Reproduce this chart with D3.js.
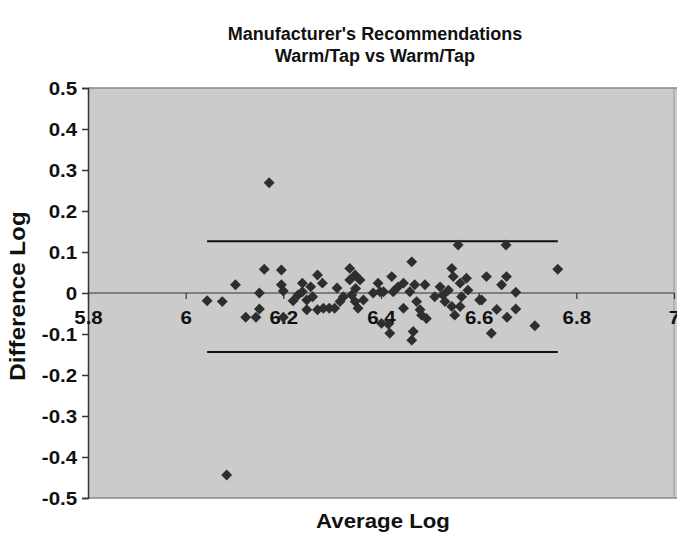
<!DOCTYPE html>
<html>
<head>
<meta charset="utf-8">
<script src="https://cdn.jsdelivr.net/npm/d3@7"></script>
<style>
  body { margin: 0; background: #fff; }
  text { font-family: "Liberation Sans", Arial, sans-serif; font-weight: bold; fill: #111; }
</style>
</head>
<body>
<svg id="chart" width="677" height="537"></svg>
<script>
// values
const avgLog = [
  6.044, 6.075, 6.084, 6.102, 6.123, 6.144, 6.151, 6.151, 6.161, 6.171,
  6.196, 6.196, 6.200, 6.220, 6.230, 6.239, 6.239, 6.248, 6.248, 6.256,
  6.260, 6.270, 6.270, 6.280, 6.282, 6.294, 6.305, 6.316, 6.323, 6.336,
  6.347, 6.336, 6.357, 6.348, 6.340, 6.347, 6.353, 6.364, 6.394, 6.398,
  6.401, 6.405, 6.422, 6.425, 6.415, 6.418, 6.435, 6.446, 6.446, 6.463,
  6.459, 6.469, 6.473, 6.480, 6.483, 6.493, 6.466, 6.463, 6.490, 6.510,
  6.521, 6.527, 6.531, 6.545, 6.548, 6.538, 6.545, 6.551, 6.562, 6.558,
  6.575, 6.578, 6.565, 6.562, 6.602, 6.656, 6.616, 6.657, 6.647, 6.676,
  6.606, 6.637, 6.676, 6.658, 6.626, 6.715, 6.762, 6.200, 6.310, 6.384
]
const diffLog = [
  -0.019, -0.021, -0.444, 0.020, -0.059, -0.059, 0.000, -0.039, 0.058, 0.269,
  0.056, 0.020, -0.059, -0.019, -0.005, 0.024, 0.003, -0.017, -0.041, 0.015,
  -0.009, 0.044, -0.041, 0.024, -0.037, -0.037, -0.037, -0.021, -0.009, 0.060,
  0.044, 0.032, 0.032, 0.011, -0.005, -0.021, -0.037, -0.017, 0.024, 0.003,
  -0.074, 0.003, 0.040, 0.003, -0.076, -0.098, 0.015, 0.024, -0.037, 0.076,
  0.003, 0.020, -0.021, -0.041, -0.054, -0.062, -0.094, -0.115, 0.020, -0.009,
  0.015, -0.005, -0.021, 0.060, 0.040, 0.007, -0.033, -0.054, 0.024, 0.117,
  0.036, 0.007, -0.009, -0.033, -0.017, 0.117, 0.040, 0.040, 0.020, 0.002,
  -0.017, -0.040, -0.039, -0.059, -0.098, -0.080, 0.058, 0.005, 0.012, 0.000
]
const upperLimit = 0.126
const lowerLimit = -0.144
const xTicks = [5.8, 6, 6.2, 6.4, 6.6, 6.8, 7]
const yTicks = [0.5, 0.4, 0.3, 0.2, 0.1, 0, -0.1, -0.2, -0.3, -0.4, -0.5]
const titleLines = ["Manufacturer's Recommendations", "Warm/Tap vs Warm/Tap"]

const svg = d3.select("#chart")
const plotLeft = 88, plotRight = 674, plotTop = 88, plotBottom = 498

const x = d3.scaleLinear().domain([5.8, 7]).range([plotLeft, plotRight])
const y = d3.scaleLinear().domain([-0.5, 0.5]).range([plotBottom, plotTop])

// excel style labels, plain hyphen for minus
const fmt = d => d === 0 ? "0" : (d % 1 === 0 ? String(d) : d.toFixed(1))

// plot background
svg.append("rect")
  .attr("x", plotLeft).attr("y", plotTop)
  .attr("width", 677 - plotLeft).attr("height", plotBottom - plotTop)
  .attr("fill", "#cbcbcb")
svg.append("line")
  .attr("x1", plotLeft).attr("x2", 677).attr("y1", plotTop).attr("y2", plotTop)
  .attr("stroke", "#888").attr("stroke-width", 1.5)
svg.append("line")
  .attr("x1", plotLeft).attr("x2", 677).attr("y1", plotBottom).attr("y2", plotBottom)
  .attr("stroke", "#888").attr("stroke-width", 1.5)
svg.append("line")
  .attr("x1", plotRight).attr("x2", plotRight).attr("y1", plotTop).attr("y2", plotBottom)
  .attr("stroke", "#999").attr("stroke-width", 1)

// y axis
const yAxis = svg.append("g")
  .attr("transform", `translate(${plotLeft},0)`)
  .call(d3.axisLeft(y).tickValues(yTicks).tickSize(6).tickPadding(4).tickFormat(fmt))
yAxis.selectAll("text").style("font-size", "19px").attr("transform", "scale(1.08,1)")
yAxis.selectAll("path, line").attr("stroke", "#333").attr("stroke-width", 1.5)

// x axis sits on y = 0
const xAxis = svg.append("g")
  .attr("transform", `translate(0,${y(0)})`)
  .call(d3.axisBottom(x).tickValues(xTicks).tickSize(6).tickPadding(12).tickFormat(fmt))
xAxis.selectAll("text").style("font-size", "19px").attr("transform", "scale(1.08,1)")
xAxis.selectAll("path, line").attr("stroke", "#333").attr("stroke-width", 1.2)
xAxis.select("path").attr("d", `M${plotLeft},0H${plotRight}`)

// limit lines span the data range
const xMin = d3.min(avgLog), xMax = d3.max(avgLog)
;[upperLimit, lowerLimit].forEach(v => {
  svg.append("line")
    .attr("x1", x(xMin)).attr("x2", x(xMax))
    .attr("y1", y(v)).attr("y2", y(v))
    .attr("stroke", "#111").attr("stroke-width", 2)
})

// points
const diamond = d3.symbol().type(d3.symbolDiamond2).size(76)
svg.append("g").selectAll("path")
  .data(avgLog.map((v, i) => [v, diffLog[i]]))
  .join("path")
  .attr("d", diamond)
  .attr("transform", d => `translate(${x(d[0])},${y(d[1])})`)
  .attr("fill", "#2e2e2e")

// titles
svg.append("text")
  .attr("x", 375).attr("y", 40)
  .attr("text-anchor", "middle").style("font-size", "18px")
  .text(titleLines[0])
svg.append("text")
  .attr("x", 375).attr("y", 62)
  .attr("text-anchor", "middle").style("font-size", "18px")
  .text(titleLines[1])

svg.append("text")
  .attr("transform", "translate(383,528) scale(1.06,1)")
  .attr("text-anchor", "middle").style("font-size", "21px")
  .text("Average Log")

svg.append("text")
  .attr("transform", "translate(25,296) rotate(-90) scale(1.1,1)")
  .attr("text-anchor", "middle").style("font-size", "22px")
  .text("Difference Log")
</script>
</body>
</html>
